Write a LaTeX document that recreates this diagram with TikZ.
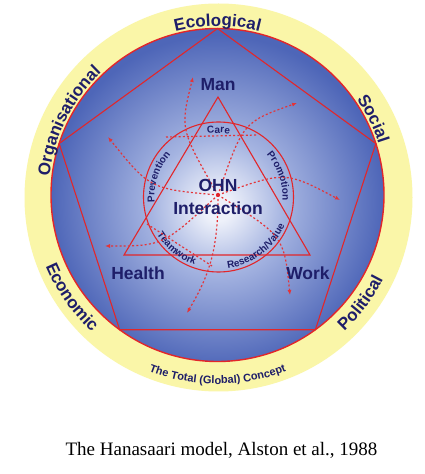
\documentclass[tikz,border=0pt]{standalone}
\usepackage{fontspec}
\setmainfont{Liberation Serif}
\setsansfont{Liberation Sans}
\usetikzlibrary{arrows.meta}
\usetikzlibrary{decorations.text}
\definecolor{ohnred}{RGB}{226,38,42}
\definecolor{ohndash}{RGB}{228,52,56}
\definecolor{ohnnavy}{RGB}{30,30,105}
\definecolor{ohnyellow}{RGB}{250,246,168}
\definecolor{ohnblue}{RGB}{78,102,184}
\definecolor{ohnmid}{RGB}{165,180,225}
\definecolor{ohncore}{RGB}{238,241,250}
\pgfdeclareradialshading{ohnglow}{\pgfpoint{0bp}{-2bp}}{color(0bp)=(ohncore); color(2bp)=(ohncore); color(10bp)=(ohnmid); color(25bp)=(ohnblue); color(50bp)=(ohnblue)}
\newcommand{\bigfont}{\fontsize{17.5}{23}\selectfont\sffamily\bfseries}
\newcommand{\ringfont}{\fontsize{17}{17}\selectfont\sffamily\bfseries}
\newcommand{\smallfont}{\fontsize{10}{10}\selectfont\sffamily\bfseries}
\newcommand{\conceptfont}{\fontsize{11}{11}\selectfont\sffamily\bfseries}

\begin{document}
\begin{tikzpicture}
[
x=1pt, y=1pt,
redline/.style={draw=ohnred, line width=1.1pt},
flow/.style={ohndash, line width=1.2pt, dash pattern=on 2pt off 2.2pt, -{Latex[length=5pt,width=4pt]}},
bigtext/.style={text=ohnnavy, font=\bigfont, inner sep=0pt},
ringtext/.style={decorate, decoration={text along path, text align=center, text color=ohnnavy, text={#1}}},
]
\useasboundingbox (0,0) rectangle (425,474);
\fill[white] (0,0) rectangle (425,474);
% ring and disc
\fill[ohnyellow] (218.5,276.5) circle (194);
\coordinate (bc) at (217.5,279);
\shade[shading=ohnglow] (bc) circle (166.5);
\draw[redline, line width=1.4pt] (bc) circle (166.5);
\begin{scope}[shift={(bc)}]
\draw[redline] (90:166.5) -- (18:166.5) -- (-54:166.5) -- (-126:166.5) -- (162:166.5) -- cycle;
\path[ringtext={|\ringfont|Ecological}] (130:169) arc[start angle=130, end angle=50, radius=169];
\path[ringtext={|\ringfont|Social}] (66:169) arc[start angle=66, end angle=-14, radius=169];
\path[ringtext={|\ringfont|Organisational}] (203.5:169) arc[start angle=203.5, end angle=103.5, radius=169];
\path[ringtext={|\ringfont|Economic}] (170:186) arc[start angle=170, end angle=260, radius=186];
\path[ringtext={|\ringfont|Political}] (278:186) arc[start angle=278, end angle=368, radius=186];
\path[ringtext={|\conceptfont|The Total (Global) Concept}] (225:189) arc[start angle=225, end angle=315, radius=189];
\end{scope}
% triangle and inner circle
\coordinate (ic) at (218.5,277);
\draw[redline] (218,377) -- (310,219) -- (124,219) -- cycle;
\draw[redline] (ic) circle (75);
\begin{scope}[shift={(ic)}]
\path[ringtext={|\smallfont|Care}] (130:64) arc[start angle=130, end angle=50, radius=64];
\path[ringtext={|\smallfont|Prevention}] (211.5:64) arc[start angle=211.5, end angle=111.5, radius=64];
\path[ringtext={|\smallfont|Promotion}] (69:64) arc[start angle=69, end angle=-31, radius=64];
\path[ringtext={|\smallfont|Teamwork}] (186:72) arc[start angle=186, end angle=276, radius=72];
\path[ringtext={|\smallfont|Research/Value}] (262:72) arc[start angle=262, end angle=352, radius=72];
\end{scope}
% dashed flows
\coordinate (hub) at (218,279);
\coordinate (upman) at (193,397);
\coordinate (upright) at (297,371);
\coordinate (upleft) at (108,337);
\coordinate (right) at (340,274);
\coordinate (left) at (105,228);
\coordinate (downleft) at (187,161);
\coordinate (downright) at (290,179);
\draw[flow] (hub) .. controls (180,345) .. (upman);
\draw[flow] (hub) .. controls (243,352) .. (upright);
\draw[flow] (hub) .. controls (150,285) .. (upleft);
\draw[flow] (hub) .. controls (285,303) .. (right);
\draw[flow] (hub) .. controls (163,228) .. (left);
\draw[flow] (hub) .. controls (218,225) and (210,200) .. (downleft);
\draw[flow] (hub) .. controls (284,238) .. (downright);
\coordinate (chA) at (166,337);
\coordinate (chB) at (258,339);
\coordinate (chC) at (147,250);
\coordinate (chD) at (212,208);
\draw[flow, -] (chA) -- (chB);
\draw[flow, -] (chC) -- (chD);
\fill[ohnred] (hub) circle (2);
% labels
\node (man) [bigtext] at (218,389) {Man};
\node (ohn) [bigtext, align=center] at (218,277.5) {OHN\\Interaction};
\node (health) [bigtext] at (138,201) {Health};
\node (work) [bigtext] at (308,201) {Work};
\node (caption) [font=\fontsize{19}{19}\selectfont, inner sep=0pt] at (221.5,24) {The Hanasaari model, Alston et al., 1988};
\end{tikzpicture}
\end{document}
